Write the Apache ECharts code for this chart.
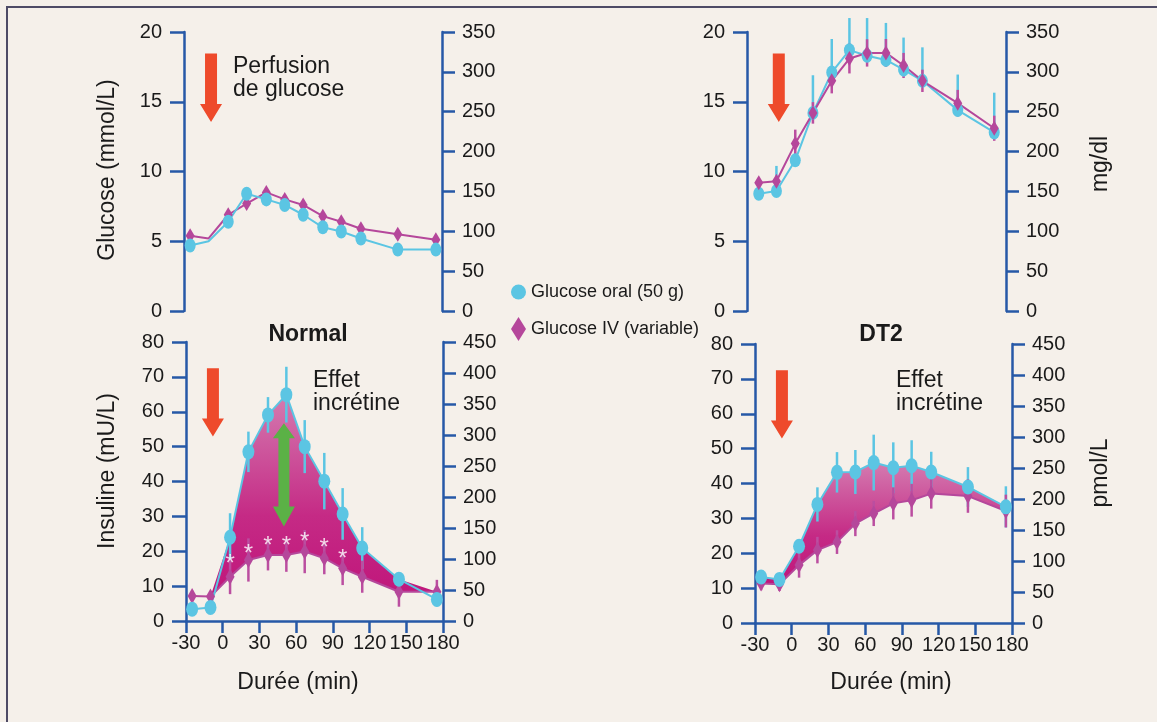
<!DOCTYPE html>
<html>
<head>
<meta charset="utf-8">
<script src="https://cdn.jsdelivr.net/npm/echarts@6/dist/echarts.min.js"></script>
<style>
html,body{margin:0;padding:0;background:#f5f0ea;}
#chart{width:1157px;height:722px;}
</style>
</head>
<body>
<div id="chart"></div>
<script>
// ---------- DATA ----------
const times = [-25, -10, 6, 21, 37, 52, 67, 83, 98, 114, 144, 175];
const xTicks = [-30, 0, 30, 60, 90, 120, 150, 180];

// Glucose (mmol/L) - Normal
const glucOralNormal = [4.7, 5.0, 6.4, 8.4, 8.0, 7.6, 6.9, 6.0, 5.7, 5.2, 4.4, 4.4];
const glucIVNormal   = [5.4, 5.2, 6.9, 7.7, 8.5, 8.0, 7.6, 6.8, 6.4, 5.9, 5.5, 5.1];

// Glucose (mmol/L) - DT2
const glucOralDT2    = [8.4, 8.6, 10.8, 14.2, 17.1, 18.7, 18.3, 18.0, 17.3, 16.5, 14.4, 12.8];
const glucOralDT2Err = [0, 1.8, 0.5, 2.7, 2.4, 2.3, 2.7, 2.65, 2.3, 2.4, 2.55, 2.85];
const glucIVDT2      = [9.2, 9.3, 12.0, 14.2, 16.5, 18.1, 18.5, 18.5, 17.6, 16.5, 14.9, 13.1];
const glucIVDT2Err   = [0.35, 0.3, 1.0, 0.77, 0.9, 1.07, 0.98, 1.0, 0.9, 0.8, 0.95, 0.9];

// Insulin (mU/L) - Normal
const insOralNormal    = [3.4, 3.9, 24.0, 48.5, 59.1, 64.9, 50.0, 40.1, 30.7, 20.9, 12.0, 6.2];
const insOralNormalErr = [0, 0, 6.9, 5.8, 5.1, 8.0, 7.6, 8.1, 7.4, 6.0, 1.0, 2.0];
const insIVNormal      = [7.2, 7.0, 12.7, 17.5, 18.9, 18.9, 19.9, 18.0, 15.1, 12.7, 8.4, 8.4];
const insIVNormalErr   = [1.5, 1.5, 5.0, 6.2, 4.4, 4.8, 6.2, 4.6, 4.8, 4.6, 4.3, 3.4];

// Insulin (mU/L) - DT2
const insOralDT2    = [13.2, 12.5, 22.0, 34.0, 43.2, 43.3, 46.0, 44.5, 45.1, 43.3, 39.0, 33.3];
const insOralDT2Err = [1.0, 1.0, 1.0, 4.9, 5.8, 6.3, 8.0, 7.3, 7.3, 5.8, 5.7, 5.9];
const insIVDT2      = [11.3, 11.1, 16.6, 20.9, 23.2, 28.5, 31.4, 34.3, 35.2, 37.1, 36.4, 32.1];
const insIVDT2Err   = [1.9, 1.9, 3.6, 3.8, 3.4, 3.6, 3.6, 4.6, 4.7, 4.3, 4.8, 4.7];

// significance asterisks (Normal insulin panel)
const starIndex = [2, 3, 4, 5, 6, 7, 8];
const starLevel = [18.0, 20.9, 23.2, 23.0, 24.4, 22.5, 19.4];

// annotation arrows: [time, start value, tip value]
const perfArrowGlucose = [-8, 18.45, 13.55];
const perfArrowInsulin = [-8, 72.5, 52.9];
const incretinArrow    = [50, 56.7, 27.1];

const seriesNames = ['Glucose oral (50 g)', 'Glucose IV (variable)'];

// ---------- STYLE ----------
const FONT = "'Liberation Sans', Arial, Helvetica, sans-serif";
const BG = '#f5f0ea';
const AXIS = '#2658a7';
const CYAN = '#5bc5e3';
const MAG = '#b5479b';
const MAGBAR = '#bb4ea0';
const RED = '#ee4a2b';
const GREEN = '#5bb146';
const TXT = '#1a1a1a';

const chart = echarts.init(document.getElementById('chart'), null, {renderer: 'canvas'});

function yAxisDef(gi, max, interval, right) {
  return {
    type: 'value', gridIndex: gi, min: 0, max: max, interval: interval,
    position: right ? 'right' : 'left',
    axisLine: {show: true, onZero: false, lineStyle: {color: AXIS, width: 2.5}},
    axisTick: {show: true, inside: false, length: right ? 13 : 14, lineStyle: {color: AXIS, width: 2.5}},
    splitLine: {show: false},
    axisLabel: {show: true, color: TXT, fontSize: 20, fontFamily: FONT, margin: right ? 20 : 22}
  };
}
function xAxisDef(gi, min, max, show) {
  return {
    type: 'value', gridIndex: gi, min: min, max: max, interval: 30, show: show,
    axisLine: {show: true, onZero: false, lineStyle: {color: AXIS, width: 2.5}},
    axisTick: {show: true, inside: false, length: 12, lineStyle: {color: AXIS, width: 2.5}},
    splitLine: {show: false},
    axisLabel: {show: true, color: TXT, fontSize: 20, fontFamily: FONT, margin: 12}
  };
}

function lineSeries(name, xi, yi, vals, color, symbol, size, hide) {
  return {
    type: 'line', name: name, xAxisIndex: xi, yAxisIndex: yi, z: 4,
    data: times.map((t, i) => [t, vals[i]]),
    lineStyle: {color: color, width: 2},
    itemStyle: {color: color, opacity: 1},
    symbol: symbol,
    symbolSize: hide ? (v, p) => (hide.indexOf(p.dataIndex) >= 0 ? 0 : size) : size,
    showSymbol: true, showAllSymbol: true,
    emphasis: {disabled: true}, silent: true, animation: false
  };
}

function errSeries(xi, yi, vals, up, down, color) {
  return {
    type: 'custom', xAxisIndex: xi, yAxisIndex: yi, z: 3, silent: true, clip: false, animation: false,
    data: times.map((t, i) => [t, vals[i], up[i], down[i]]),
    encode: {x: 0, y: 1},
    renderItem: function (params, api) {
      const t = api.value(0), v = api.value(1), u = api.value(2), d = api.value(3);
      if (!(u > 0 || d > 0)) return null;
      const a = api.coord([t, v + u]), b = api.coord([t, v - d]);
      return {type: 'line', shape: {x1: a[0], y1: a[1], x2: b[0], y2: b[1]},
              style: {stroke: color, lineWidth: 2.5}};
    }
  };
}

function bandSeries(xi, yi, top, bottom) {
  return {
    type: 'custom', xAxisIndex: xi, yAxisIndex: yi, z: 1, silent: true, clip: false, animation: false,
    data: [[times[0], bottom[0]]],
    encode: {x: 0, y: 1},
    renderItem: function (params, api) {
      const up = times.map((t, i) => api.coord([t, Math.max(top[i], bottom[i])]));
      const lo = times.map((t, i) => api.coord([t, bottom[i]])).reverse();
      return {
        type: 'polygon', shape: {points: up.concat(lo)},
        style: {fill: new echarts.graphic.LinearGradient(0, 0, 0, 1, [
          {offset: 0, color: '#d47bb0'},
          {offset: 0.6, color: '#c52a85'},
          {offset: 1, color: '#c0167b'}
        ])}
      };
    }
  };
}

function arrowSeries(xi, yi, arr, color, dbl) {
  return {
    type: 'custom', xAxisIndex: xi, yAxisIndex: yi, z: 6, silent: true, clip: false, animation: false,
    data: [arr],
    encode: {x: 0, y: 1},
    renderItem: function (params, api) {
      const a = api.coord([api.value(0), api.value(1)]);
      const b = api.coord([api.value(0), api.value(2)]);
      const x = a[0];
      let pts;
      if (!dbl) {
        const sw = 6, hw = 11, hl = 18;
        pts = [[x - sw, a[1]], [x + sw, a[1]], [x + sw, b[1] - hl], [x + hw, b[1] - hl],
               [x, b[1]], [x - hw, b[1] - hl], [x - sw, b[1] - hl]];
      } else {
        const sw = 5.5, hw = 11, hlt = 15, hlb = 20;
        pts = [[x, a[1]], [x + hw, a[1] + hlt], [x + sw, a[1] + hlt], [x + sw, b[1] - hlb],
               [x + hw, b[1] - hlb], [x, b[1]], [x - hw, b[1] - hlb], [x - sw, b[1] - hlb],
               [x - sw, a[1] + hlt], [x - hw, a[1] + hlt]];
      }
      return {type: 'polygon', shape: {points: pts}, style: {fill: color}};
    }
  };
}

const option = {
  backgroundColor: BG,
  animation: false,
  textStyle: {fontFamily: FONT},
  grid: [
    {left: 184, top: 32, width: 258, height: 279, outerBoundsMode: 'none'},
    {left: 747, top: 32, width: 259, height: 279, outerBoundsMode: 'none'},
    {left: 186, top: 342, width: 257, height: 279, outerBoundsMode: 'none'},
    {left: 755, top: 344, width: 257, height: 279, outerBoundsMode: 'none'}
  ],
  xAxis: [
    xAxisDef(0, -30, 180, false),
    xAxisDef(1, -35, 185, false),
    xAxisDef(2, xTicks[0], xTicks[xTicks.length - 1], true),
    xAxisDef(3, xTicks[0], xTicks[xTicks.length - 1], true)
  ],
  yAxis: [
    yAxisDef(0, 20, 5, false), yAxisDef(0, 350, 50, true),
    yAxisDef(1, 20, 5, false), yAxisDef(1, 350, 50, true),
    yAxisDef(2, 80, 10, false), yAxisDef(2, 450, 50, true),
    yAxisDef(3, 80, 10, false), yAxisDef(3, 450, 50, true)
  ],
  legend: {
    orient: 'vertical', left: 506, top: 278,
    itemWidth: 15, itemHeight: 24, itemGap: 16, symbolKeepAspect: false,
    textStyle: {fontSize: 18, color: TXT, fontFamily: FONT},
    selectedMode: false,
    data: [{name: seriesNames[0], icon: 'circle'}, {name: seriesNames[1], icon: 'diamond'}]
  },
  series: [
    lineSeries(seriesNames[1], 0, 0, glucIVNormal, MAG, 'diamond', [9, 15], [1]),
    lineSeries(seriesNames[0], 0, 0, glucOralNormal, CYAN, 'circle', [11, 14], [1]),
    errSeries(1, 2, glucOralDT2, glucOralDT2Err, glucOralDT2.map(() => 0), CYAN),
    errSeries(1, 2, glucIVDT2, glucIVDT2Err, glucIVDT2Err, MAGBAR),
    lineSeries(seriesNames[0], 1, 2, glucOralDT2, CYAN, 'circle', [11, 14]),
    lineSeries(seriesNames[1], 1, 2, glucIVDT2, MAG, 'diamond', [9, 15]),
    bandSeries(2, 4, insOralNormal, insIVNormal),
    errSeries(2, 4, insOralNormal, insOralNormalErr, insOralNormalErr, CYAN),
    errSeries(2, 4, insIVNormal, insIVNormalErr, insIVNormalErr, MAGBAR),
    lineSeries(seriesNames[1], 2, 4, insIVNormal, MAG, 'diamond', [9, 16]),
    lineSeries(seriesNames[0], 2, 4, insOralNormal, CYAN, 'circle', [12, 15]),
    {
      type: 'scatter', xAxisIndex: 2, yAxisIndex: 4, z: 5, silent: true, animation: false,
      symbolSize: 1, itemStyle: {color: 'rgba(0,0,0,0)'},
      data: starIndex.map((k, i) => [times[k], starLevel[i]]),
      label: {show: true, position: 'inside', formatter: '*', color: '#ffffff', fontSize: 24, offset: [0, 6]}
    },
    bandSeries(3, 6, insOralDT2, insIVDT2),
    errSeries(3, 6, insOralDT2, insOralDT2Err, insOralDT2Err, CYAN),
    errSeries(3, 6, insIVDT2, insIVDT2Err, insIVDT2Err, MAGBAR),
    lineSeries(seriesNames[1], 3, 6, insIVDT2, MAG, 'diamond', [9, 16]),
    lineSeries(seriesNames[0], 3, 6, insOralDT2, CYAN, 'circle', [12, 15]),
    arrowSeries(0, 0, perfArrowGlucose, RED, false),
    arrowSeries(1, 2, perfArrowGlucose, RED, false),
    arrowSeries(2, 4, perfArrowInsulin, RED, false),
    arrowSeries(3, 6, perfArrowInsulin, RED, false),
    arrowSeries(2, 4, incretinArrow, GREEN, true)
  ],
  graphic: [
    {type: 'rect', z: -10, silent: true, shape: {x: 7, y: 7, width: 1300, height: 900},
     style: {fill: 'transparent', stroke: '#4e4b66', lineWidth: 2}},
    {type: 'text', x: 233, y: 55, silent: true,
     style: {text: 'Perfusion\nde glucose', fontSize: 23, fontFamily: FONT, fill: TXT, lineHeight: 23.4, align: 'left', verticalAlign: 'top'}},
    {type: 'text', x: 313, y: 369, silent: true,
     style: {text: 'Effet\nincrétine', fontSize: 23, fontFamily: FONT, fill: TXT, lineHeight: 23.4, align: 'left', verticalAlign: 'top'}},
    {type: 'text', x: 896, y: 369, silent: true,
     style: {text: 'Effet\nincrétine', fontSize: 23, fontFamily: FONT, fill: TXT, lineHeight: 23.4, align: 'left', verticalAlign: 'top'}},
    {type: 'text', x: 308, y: 335, silent: true,
     style: {text: 'Normal', fontSize: 23, fontWeight: 'bold', fontFamily: FONT, fill: TXT, align: 'center', verticalAlign: 'middle'}},
    {type: 'text', x: 881, y: 335, silent: true,
     style: {text: 'DT2', fontSize: 23, fontWeight: 'bold', fontFamily: FONT, fill: TXT, align: 'center', verticalAlign: 'middle'}},
    {type: 'text', x: 108, y: 170, rotation: Math.PI / 2, silent: true,
     style: {text: 'Glucose (mmol/L)', fontSize: 23, fontFamily: FONT, fill: TXT, align: 'center', verticalAlign: 'middle'}},
    {type: 'text', x: 108, y: 471, rotation: Math.PI / 2, silent: true,
     style: {text: 'Insuline (mU/L)', fontSize: 23, fontFamily: FONT, fill: TXT, align: 'center', verticalAlign: 'middle'}},
    {type: 'text', x: 1101, y: 164, rotation: Math.PI / 2, silent: true,
     style: {text: 'mg/dl', fontSize: 23, fontFamily: FONT, fill: TXT, align: 'center', verticalAlign: 'middle'}},
    {type: 'text', x: 1101, y: 473, rotation: Math.PI / 2, silent: true,
     style: {text: 'pmol/L', fontSize: 23, fontFamily: FONT, fill: TXT, align: 'center', verticalAlign: 'middle'}},
    {type: 'text', x: 298, y: 683, silent: true,
     style: {text: 'Durée (min)', fontSize: 23, fontFamily: FONT, fill: TXT, align: 'center', verticalAlign: 'middle'}},
    {type: 'text', x: 891, y: 683, silent: true,
     style: {text: 'Durée (min)', fontSize: 23, fontFamily: FONT, fill: TXT, align: 'center', verticalAlign: 'middle'}}
  ]
};
chart.setOption(option);
</script>
</body>
</html>
